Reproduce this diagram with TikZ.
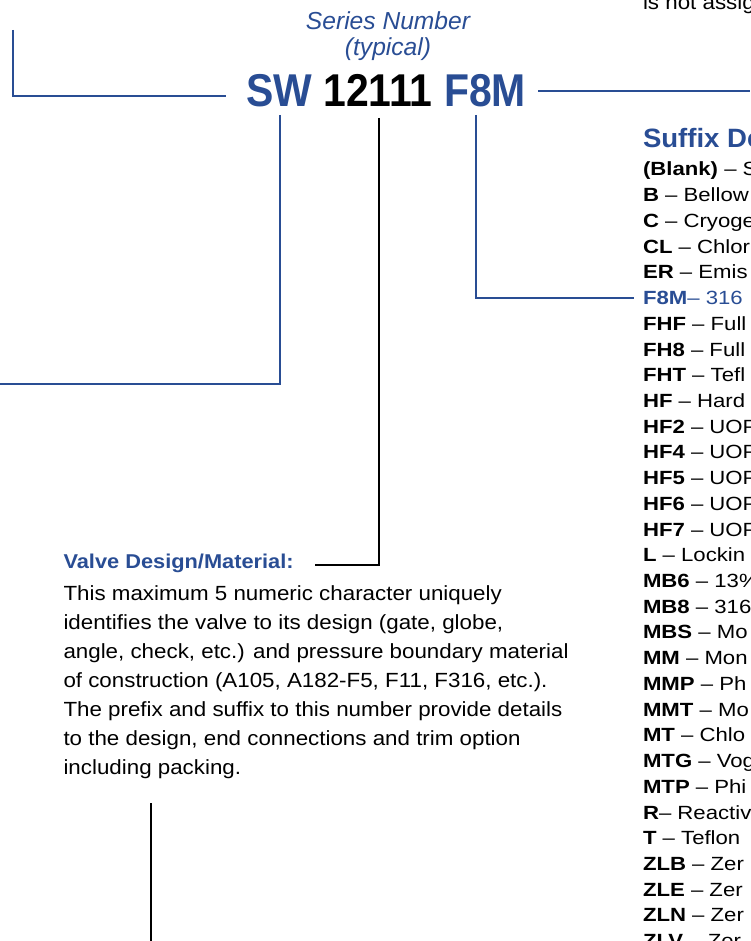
\documentclass[tikz,border=0pt]{standalone}
\usepackage{fontspec}
\setmainfont{Liberation Sans}
\newfontfamily\bodyf[FakeStretch=1.09]{Liberation Sans}
\newfontfamily\listf[FakeStretch=1.16]{Liberation Sans}
\newfontfamily\headf[FakeStretch=1.04]{Liberation Sans}
\newfontfamily\titlef[FakeStretch=0.89]{Liberation Sans}
\definecolor{navy}{RGB}{41,77,148}
\newcommand\sitem[3]{\node[litem] (s#1) at (643,{176+#1*25.72}) {\textbf{#2} – #3};}
\begin{document}
\begin{tikzpicture}[x=1pt,y=-1pt,
  txt/.style={inner sep=0pt, outer sep=0pt, anchor=base west},
  body/.style={txt, font=\bodyf\fontsize{20.5}{24}\selectfont},
  litem/.style={txt, font=\listf\fontsize{19.1}{22}\selectfont},
  bl/.style={draw=navy, line width=2.6pt, line join=miter},
  bk/.style={draw=black, line width=2.4pt, line join=miter}]
\useasboundingbox (0,0) rectangle (750,941);
\clip (0,0) rectangle (750,941);

% title
\node[txt, anchor=base, font=\itshape\fontsize{24.6}{26}\selectfont, text=navy] (ser1) at (388,30) {Series Number};
\node[txt, anchor=base, font=\itshape\fontsize{24.6}{26}\selectfont, text=navy] (ser2) at (388,56) {(typical)};
\node[txt, font=\titlef\bfseries\fontsize{46}{48}\selectfont] (title) at (246,107)
  {\textcolor{navy}{SW} 12111 \textcolor{navy}{F8M}};

% top right fragment
\node[body] (frag) at (643,10) {is not assig};

% valve design block
\node[txt, font=\bodyf\bfseries\fontsize{20}{24}\selectfont, text=navy] (vdh) at (63.5,568.5) {Valve Design/Material:};
\node[body] (p1) at (63.5,600) {This maximum 5 numeric character uniquely};
\node[body] (p2) at (63.5,629) {identifies the valve to its design (gate, globe,};
\node[body] (p3) at (63.5,658) {angle, check, etc.) and pressure boundary material};
\node[body] (p4) at (63.5,687) {of construction (A105, A182-F5, F11, F316, etc.).};
\node[body] (p5) at (63.5,716) {The prefix and suffix to this number provide details};
\node[body] (p6) at (63.5,745) {to the design, end connections and trim option};
\node[body] (p7) at (63.5,774) {including packing.};

% suffix list
\node[txt, font=\headf\bfseries\fontsize{26.5}{30}\selectfont, text=navy] (sfx) at (643,147.5) {Suffix De};
\sitem{0}{(Blank)}{S}
\sitem{1}{B}{Bellow}
\sitem{2}{C}{Cryoge}
\sitem{3}{CL}{Chlor}
\sitem{4}{ER}{Emis}
\node[litem, text=navy] (s5) at (643,{176+5*25.72}) {\textbf{F8M}– 316};
\sitem{6}{FHF}{Full}
\sitem{7}{FH8}{Full}
\sitem{8}{FHT}{Tefl}
\sitem{9}{HF}{Hard}
\sitem{10}{HF2}{UOP}
\sitem{11}{HF4}{UOP}
\sitem{12}{HF5}{UOP}
\sitem{13}{HF6}{UOP}
\sitem{14}{HF7}{UOP}
\sitem{15}{L}{Lockin}
\sitem{16}{MB6}{13\%}
\sitem{17}{MB8}{316}
\sitem{18}{MBS}{Mo}
\sitem{19}{MM}{Mon}
\sitem{20}{MMP}{Ph}
\sitem{21}{MMT}{Mo}
\sitem{22}{MT}{Chlo}
\sitem{23}{MTG}{Vog}
\sitem{24}{MTP}{Phi}
\node[litem] (s25) at (643,{176+25*25.72}) {\textbf{R}– Reactiv};
\sitem{26}{T}{Teflon}
\sitem{27}{ZLB}{Zer}
\sitem{28}{ZLE}{Zer}
\sitem{29}{ZLN}{Zer}
\sitem{30}{ZLV}{Zer}

% connector coordinates
\coordinate (lt) at (13,30);
\coordinate (lc) at (13,96);
\coordinate (le) at (226,96);
\coordinate (rs) at (538,91);
\coordinate (re) at (750,91);
\coordinate (swt) at (280,115);
\coordinate (swc) at (280,384);
\coordinate (swe) at (0,384);
\coordinate (nt) at (379,118);
\coordinate (nc) at (379,565);
\coordinate (ne) at (315,565);
\coordinate (ft) at (476,115);
\coordinate (fc) at (476,298);
\coordinate (fe) at (634,298);
\coordinate (bt) at (151,803);
\coordinate (bb) at (151,941);

\draw[bl] (lt) -- (lc) -- (le);
\draw[bl] (rs) -- (re);
\draw[bl] (swt) -- (swc) -- (swe);
\draw[bk] (nt) -- (nc) -- (ne);
\draw[bl] (ft) -- (fc) -- (fe);
\draw[bk] (bt) -- (bb);
\end{tikzpicture}
\end{document}
